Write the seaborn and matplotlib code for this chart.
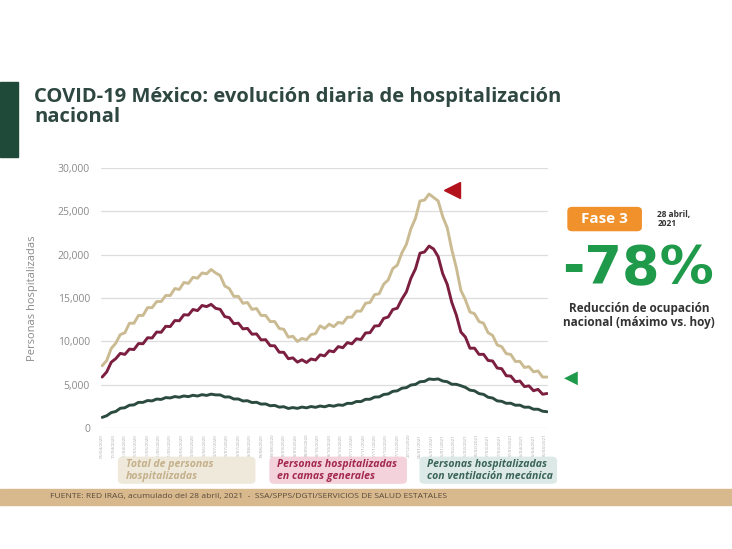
import pandas as pd
import numpy as np
import matplotlib.pyplot as plt
import matplotlib.dates as mdates
import seaborn as sns
from matplotlib.patches import FancyBboxPatch, Rectangle

# valores leídos cada 4 días (01/04/2020 - 28/04/2021)
fechas = pd.date_range("2020-04-01", periods=99, freq="4D")

total = [7200, 7800, 9200, 9800, 10800, 11000, 12100, 12100, 13000, 13000,
         13900, 13900, 14600, 14600, 15300, 15300, 16100, 16000, 16800, 16700,
         17400, 17300, 17900, 17800, 18300, 17900, 17600, 16400, 16100, 15200,
         15200, 14400, 14500, 13700, 13800, 13000, 13000, 12300, 12300, 11500,
         11400, 10500, 10600, 10000, 10350, 10200, 10800, 10900, 11800, 11500,
         12000, 11700, 12200, 12100, 12800, 12800, 13500, 13500, 14400, 14500,
         15400, 15500, 16600, 17100, 18400, 18800, 20200, 21200, 23000, 24200,
         26200, 26300, 27000, 26600, 26200, 24400, 23100, 20600, 18500, 15900,
         14800, 13400, 13200, 12300, 12100, 11000, 10700, 9600, 9400, 8600,
         8500, 7700, 7700, 7000, 7100, 6500, 6600, 5900, 5900]

generales = [5900, 6490, 7610, 8020, 8630, 8510, 9120, 9070, 9760, 9740,
             10430, 10400, 11090, 11060, 11750, 11720, 12410, 12390, 13080, 13050,
             13690, 13560, 14150, 14020, 14280, 13820, 13700, 12870, 12750, 12050,
             12110, 11450, 11510, 10840, 10870, 10180, 10210, 9520, 9500, 8760,
             8750, 8010, 8110, 7620, 7890, 7580, 7980, 7860, 8460, 8340,
             8930, 8810, 9410, 9280, 9870, 9730, 10310, 10220, 10980, 11020,
             11780, 11820, 12660, 12820, 13680, 13840, 14880, 15720, 17280, 18370,
             20180, 20320, 21000, 20660, 19780, 17820, 16580, 14510, 13050, 11090,
             10510, 9220, 9230, 8510, 8520, 7810, 7750, 6940, 6860, 6050,
             6010, 5370, 5440, 4800, 4880, 4320, 4480, 3920, 4000]

ventilacion = [1250, 1440, 1800, 1930, 2300, 2360, 2650, 2690, 2980, 2980,
               3190, 3150, 3360, 3320, 3530, 3490, 3650, 3570, 3720, 3640,
               3800, 3710, 3870, 3780, 3930, 3840, 3840, 3600, 3610, 3370,
               3370, 3140, 3170, 2960, 2990, 2780, 2800, 2590, 2630, 2430,
               2480, 2280, 2380, 2290, 2440, 2350, 2500, 2410, 2560, 2470,
               2630, 2540, 2690, 2640, 2870, 2860, 3080, 3070, 3330, 3340,
               3590, 3610, 3890, 3950, 4250, 4310, 4610, 4680, 4980, 5050,
               5360, 5400, 5680, 5620, 5680, 5440, 5360, 5070, 5060, 4900,
               4710, 4390, 4310, 3990, 3900, 3570, 3480, 3150, 3100, 2870,
               2880, 2650, 2660, 2420, 2430, 2190, 2190, 1960, 1900]

series = ["Total", "Generales", "Ventilación"]
colores = {"Total": "#cbbb93", "Generales": "#7b1e40", "Ventilación": "#2c4b3f"}

df = pd.concat([
    pd.DataFrame({"fecha": fechas, "valor": total, "serie": "Total"}),
    pd.DataFrame({"fecha": fechas, "valor": generales, "serie": "Generales"}),
    pd.DataFrame({"fecha": fechas, "valor": ventilacion, "serie": "Ventilación"}),
])

sns.set_style("white")
plt.rcParams['font.family'] = ['Open Sans', 'DejaVu Sans']

fig = plt.figure(figsize=(7.32, 5.49), dpi=100)
ax = fig.add_axes([0.138, 0.220, 0.611, 0.474])

sns.lineplot(data=df, x="fecha", y="valor", hue="serie", palette=colores,
             linewidth=2.1, legend=False, ax=ax)

ax.set_ylim(0, 30000)
ax.set_xlim(fechas[0] - pd.Timedelta(days=1), fechas[-1] + pd.Timedelta(days=1))
ax.set_yticks(range(0, 30001, 5000))
ax.yaxis.set_major_formatter(plt.FuncFormatter(lambda v, p: f"{int(v):,}"))
ax.grid(axis="y", color="#dddddd", linewidth=0.9)
for s in ax.spines.values():
    s.set_visible(False)
ax.tick_params(axis="y", labelsize=7.5, colors="#8a8a8a", length=0, pad=8)

ticks = pd.date_range("2020-04-01", "2021-04-28", freq="10D")
ax.set_xticks(ticks)
ax.set_xticklabels([t.strftime("%d/%m/%Y") for t in ticks], rotation=90,
                   fontsize=3.2, color="#a8a8a8")
ax.tick_params(axis="x", length=0, pad=4)
ax.set_xlabel("")
ax.set_ylabel("Personas hospitalizadas", fontsize=8, color="#8a8a8a", labelpad=14)

# marcadores
ax.plot([fechas[72] + pd.Timedelta(days=20)], [27000 + 500], marker="<",
        markersize=11, color="#b3121c", clip_on=False)
fig.text(0.780, 0.311, "◀", fontsize=13, color="#1f9a4b", ha="center", va="center",
         family=["DejaVu Sans"])

# titulo y barra
fig.patches.append(Rectangle((0, 0.714), 0.024, 0.137, transform=fig.transFigure,
                             color="#1f4a3a"))
fig.text(0.047, 0.806, "COVID-19 México: evolución diaria de hospitalización\nnacional",
         fontsize=14.5, fontweight="bold", color="#2e4740", va="center",
         linespacing=1.0)

# leyenda inferior
cajas = [
    (0.162, "#efe9dc", "#c4b08a", "Total de personas\nhospitalizadas"),
    (0.369, "#f3d2dc", "#a3284f", "Personas hospitalizadas\nen camas generales"),
    (0.574, "#dde9e6", "#3a6457", "Personas hospitalizadas\ncon ventilación mecánica"),
]
for x0, fondo, col, txt in cajas:
    fig.patches.append(FancyBboxPatch((x0, 0.120), 0.186, 0.047,
                                      boxstyle="round,pad=0,rounding_size=0.006",
                                      transform=fig.transFigure, color=fondo))
    fig.text(x0 + 0.010, 0.143, txt, fontsize=7.6, fontweight="bold",
             fontstyle="italic", color=col, va="center", linespacing=1.05)

# pie de fuente
fig.patches.append(Rectangle((0, 0.080), 1, 0.030, transform=fig.transFigure,
                             color="#d8b98e"))
fig.text(0.068, 0.095,
         "FUENTE: RED IRAG, acumulado del 28 abril, 2021  -  SSA/SPPS/DGTI/SERVICIOS DE SALUD ESTATALES",
         fontsize=6.1, color="#5a4a3a", va="center")

# panel derecho
fig.patches.append(FancyBboxPatch((0.776, 0.580), 0.100, 0.042,
                                  boxstyle="round,pad=0,rounding_size=0.006",
                                  transform=fig.transFigure, color="#f0912c"))
fig.text(0.826, 0.601, "Fase 3", fontsize=11, fontweight="bold", color="white",
         ha="center", va="center")
fig.text(0.898, 0.601, "28 abril,\n2021", fontsize=6, fontweight="bold",
         color="#333333", va="center", linespacing=1.0)
fig.text(0.872, 0.509, "-78%", fontsize=39, fontweight="bold", color="#1f9a4b",
         ha="center", va="center", family=["DejaVu Sans"])
fig.text(0.873, 0.425, "Reducción de ocupación\nnacional (máximo vs. hoy)",
         fontsize=8.5, fontweight="bold", color="#333333", ha="center", va="center",
         linespacing=1.15)

fig.savefig("out.png", dpi=100)
